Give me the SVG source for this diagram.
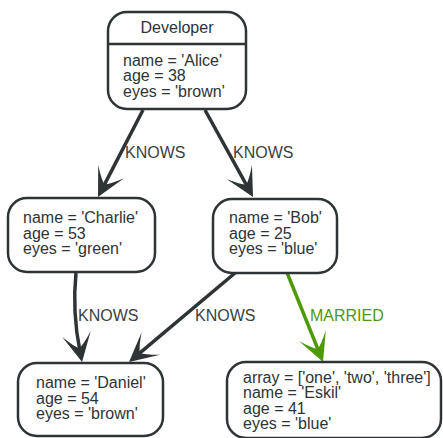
<svg xmlns="http://www.w3.org/2000/svg" width="443" height="438" viewBox="0 0 443 438">
<style>
.box{fill:#ffffff;stroke:#2e3436;stroke-width:2.5}
.t{font-family:"Liberation Sans",Arial,sans-serif;font-size:16px;fill:#2e3436}
.lbl{font-family:"Liberation Sans",Arial,sans-serif;font-size:16px;fill:#3a3f42}
.edge{fill:none;stroke:#2e3436;stroke-width:3.5}
.green{stroke:#4e9a06}
</style>
<defs>
<marker id="ah" markerUnits="userSpaceOnUse" orient="auto" refX="-10" refY="0" markerWidth="40" markerHeight="40" overflow="visible">
<path d="M0,0 L-28.5,-14.5 Q-17,-5 -14,0 Q-17,5 -28.5,14.5 Z" fill="#2e3436"/>
</marker>
<marker id="ahg" markerUnits="userSpaceOnUse" orient="auto" refX="-10" refY="0" markerWidth="40" markerHeight="40" overflow="visible">
<path d="M0,0 L-28.5,-14.5 Q-17,-5 -14,0 Q-17,5 -28.5,14.5 Z" fill="#4e9a06"/>
</marker>
</defs>
<g id="connectors">
<path class="edge" d="M143,110 L102.6,188.1" marker-end="url(#ah)"/>
<path class="edge" d="M205,110 L248.2,188.2" marker-end="url(#ah)"/>
<path class="edge" d="M76,273 Q72,312 80.1,352.2" marker-end="url(#ah)"/>
<path class="edge" d="M235,273 L136.7,355.6" marker-end="url(#ah)"/>
<path class="edge green" d="M287.2,273 L319.3,352.7" marker-end="url(#ahg)"/>
<text class="lbl" x="125" y="158">KNOWS</text>
<text class="lbl" x="233" y="158">KNOWS</text>
<text class="lbl" x="78" y="321">KNOWS</text>
<text class="lbl" x="195" y="321">KNOWS</text>
<text class="lbl" x="310" y="321" style="fill:#4e9a06">MARRIED</text>
</g>
<g id="node-alice">
<rect class="box" x="108" y="12" width="138" height="97" rx="19"/>
<line x1="108" y1="44" x2="246" y2="44" stroke="#2e3436" stroke-width="2.5"/>
<text class="t" x="177" y="33" text-anchor="middle">Developer</text>
<text class="t" x="123" y="65.7">name = 'Alice'</text>
<text class="t" x="123" y="81.2">age = 38</text>
<text class="t" x="123" y="96.7">eyes = 'brown'</text>
</g>
<g id="node-charlie">
<rect class="box" x="8" y="198" width="147" height="74" rx="19"/>
<text class="t" x="23" y="223">name = 'Charlie'</text>
<text class="t" x="23" y="238.5">age = 53</text>
<text class="t" x="23" y="254">eyes = 'green'</text>
</g>
<g id="node-bob">
<rect class="box" x="213" y="199" width="124" height="74" rx="19"/>
<text class="t" x="229" y="223">name = 'Bob'</text>
<text class="t" x="229" y="238.5">age = 25</text>
<text class="t" x="229" y="254">eyes = 'blue'</text>
</g>
<g id="node-daniel">
<rect class="box" x="18" y="363" width="145" height="73" rx="19"/>
<text class="t" x="36" y="388">name = 'Daniel'</text>
<text class="t" x="36" y="403.5">age = 54</text>
<text class="t" x="36" y="419">eyes = 'brown'</text>
</g>
<g id="node-eskil">
<rect class="box" x="227" y="362" width="214" height="76" rx="19"/>
<text class="t" x="243" y="382.7">array = ['one', 'two', 'three']</text>
<text class="t" x="243" y="398.2">name = 'Eskil'</text>
<text class="t" x="243" y="413.7">age = 41</text>
<text class="t" x="243" y="429.2">eyes = 'blue'</text>
</g>
</svg>
